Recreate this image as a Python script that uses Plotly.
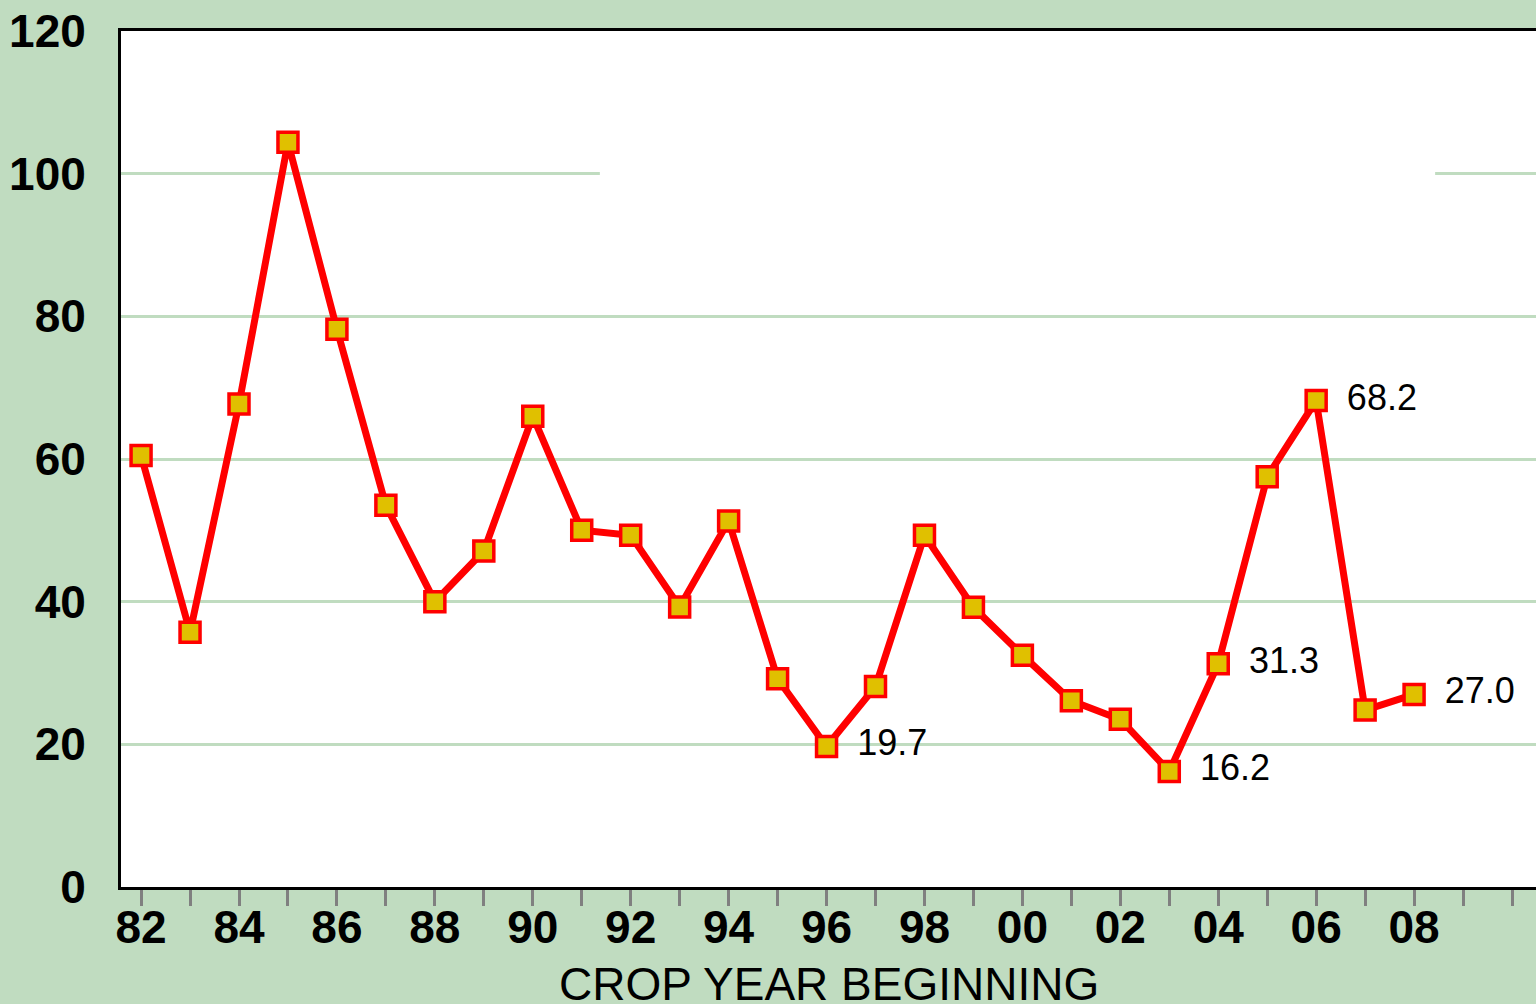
import plotly.graph_objects as go

# ---- data ----
years = list(range(1982, 2009))
values = [60.5, 35.7, 67.7, 104.4, 78.2, 53.5, 40.0, 47.1, 66.0, 50.0,
          49.3, 39.25, 51.3, 29.2, 19.7, 28.1, 49.3, 39.2, 32.5, 26.1,
          23.5, 16.2, 31.3, 57.5, 68.2, 24.8, 27.0]
point_labels = ["", "", "", "", "", "", "", "", "", "",
                "", "", "", "", "19.7", "", "", "", "", "",
                "", "16.2", "31.3", "", "68.2", "", "27.0"]
tick_years = list(range(1982, 2011))
tick_labels = [f"{y % 100:02d}" if (y % 2 == 0 and y <= 2008) else "" for y in tick_years]
y_ticks = [0, 20, 40, 60, 80, 100, 120]
x_title = "CROP YEAR BEGINNING"

BG = "#C0DCC0"
GRID = "#C0DCC0"
RED = "#FF0000"
GOLD = "#E0C000"
TICK_FONT = dict(family="Liberation Sans, Arial, sans-serif", size=46, color="black", weight="bold")

fig = go.Figure()
fig.add_trace(go.Scatter(
    x=years, y=values, mode="lines+markers+text",
    text=point_labels, texttemplate=" \u2009%{text}", textposition="middle right",
    textfont=dict(family="Liberation Sans, Arial, sans-serif", size=36, color="black"),
    line=dict(color=RED, width=7),
    marker=dict(symbol="square", size=20, color=GOLD, line=dict(color=RED, width=3.5)),
    cliponaxis=False, showlegend=False, hoverinfo="skip",
))

x_range = [1981.59, 2010.49]

# break in the 100 gridline (hidden box in the original)
fig.add_shape(type="rect", xref="x", yref="y", x0=1991.37, x1=2008.43, y0=98.5, y1=101.5,
              fillcolor="white", line=dict(width=0), layer="between")

fig.add_annotation(text=x_title, xref="paper", yref="paper", x=0.5, y=-0.113,
                   xanchor="center", yanchor="middle", showarrow=False,
                   font=dict(family="Liberation Sans, Arial, sans-serif", size=46, color="black"))

fig.update_layout(
    width=1536, height=1004,
    template="none",
    paper_bgcolor=BG, plot_bgcolor="white",
    margin=dict(l=121, r=0, t=31, b=117),
    showlegend=False,
    xaxis=dict(
        range=x_range, tickmode="array", tickvals=tick_years, ticktext=tick_labels,
        ticks="outside", ticklen=16, tickwidth=3, tickcolor="#808080",
        showgrid=False, zeroline=False,
        showline=True, linecolor="black", linewidth=3, mirror=True,
        tickfont=TICK_FONT, ticklabelstandoff=-18,
        automargin=False,
    ),
    xaxis2=dict(
        range=x_range, overlaying="x", matches="x", anchor="y", side="bottom",
        tickmode="array", tickvals=tick_years, ticks="inside", ticklen=12,
        tickwidth=3, tickcolor="#808080", showticklabels=False,
        showgrid=False, zeroline=False, showline=False,
    ),
    yaxis=dict(
        range=[0, 120], tickmode="array", tickvals=y_ticks,
        ticks="", showgrid=True, gridcolor=GRID, gridwidth=3,
        zeroline=False, showline=True, linecolor="black", linewidth=3, mirror=False,
        tickfont=TICK_FONT, ticklabelstandoff=23,
        automargin=False,
    ),
)

fig.write_html("out.html",
               config={"displayModeBar": False},
               post_script="document.body.style.margin='0';document.body.style.background='#C0DCC0';")
